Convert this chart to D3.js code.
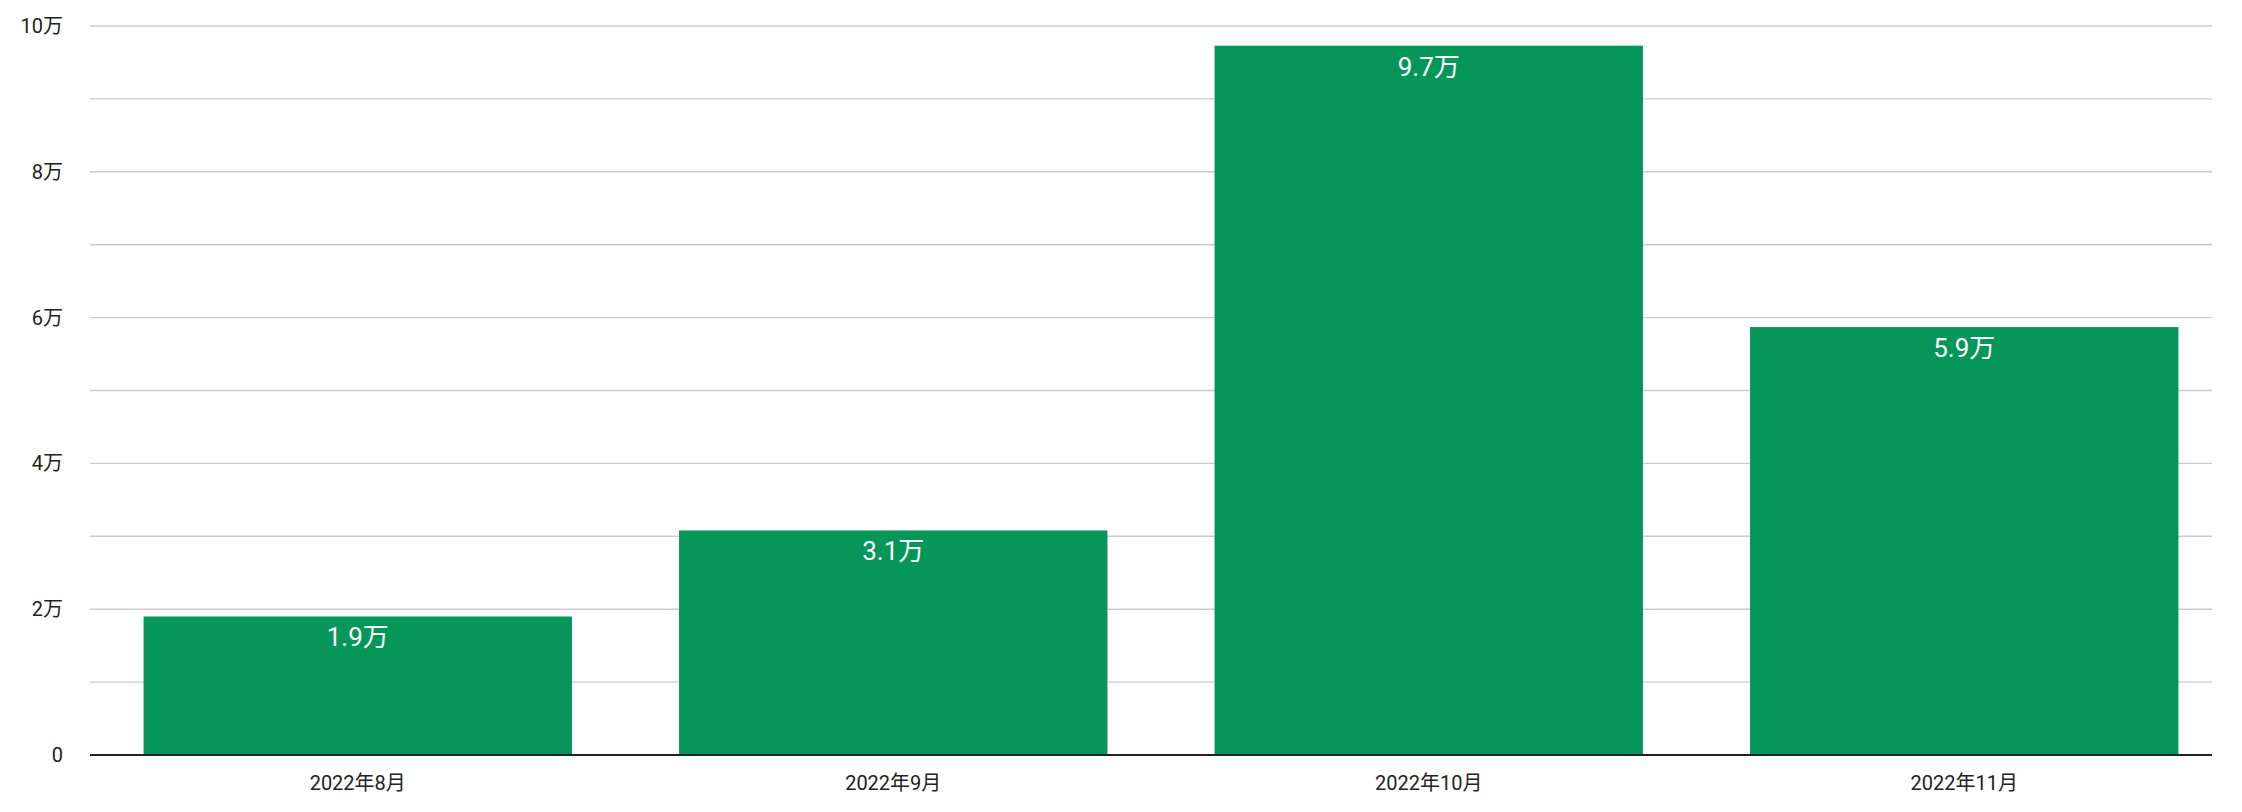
<!DOCTYPE html>
<html><head><meta charset="utf-8">
<script src="https://cdn.jsdelivr.net/npm/d3@7"></script>
<style>body{margin:0;background:#fff}text{font-family:Roboto,"Noto Sans CJK SC",sans-serif}</style>
</head><body><svg></svg>
<script>
var categories = ['2022年8月', '2022年9月', '2022年10月', '2022年11月'];
var values = [19000, 30800, 97300, 58700];
var labels = ['1.9万', '3.1万', '9.7万', '5.9万'];
var yTicks = [0, 20000, 40000, 60000, 80000, 100000];
var yTickLabels = ['0', '2万', '4万', '6万', '8万', '10万'];

var width = 2242, height = 812;
var svg = d3.select('svg').attr('width', width).attr('height', height);
var plotLeft = 90, plotRight = 2212, plotTop = 26, plotBottom = 755;

var y = d3.scaleLinear().domain([0, 100000]).range([plotBottom, plotTop]);
var x = d3.scaleBand().domain(categories).range([plotLeft, 2232]).paddingInner(0.2).paddingOuter(0.1);

// gridlines every 1万
svg.append('g').selectAll('line').data(d3.range(10000, 100001, 10000)).enter().append('line')
	.attr('x1', plotLeft).attr('x2', plotRight)
	.attr('y1', function(d) { return y(d); }).attr('y2', function(d) { return y(d); })
	.attr('stroke', '#cccccc').attr('stroke-width', 1.4);

svg.append('g').selectAll('text').data(yTicks).enter().append('text')
	.attr('x', 63).attr('y', function(d) { return y(d); }).attr('dy', '0.35em')
	.attr('text-anchor', 'end').attr('font-size', 20).attr('fill', '#222')
	.text(function(d, i) { return yTickLabels[i]; });

svg.append('g').selectAll('rect').data(values).enter().append('rect')
	.attr('x', function(d, i) { return x(categories[i]); })
	.attr('width', x.bandwidth())
	.attr('y', function(d) { return y(d); })
	.attr('height', function(d) { return plotBottom - y(d); })
	.attr('fill', '#07965a');

svg.append('g').selectAll('text').data(values).enter().append('text')
	.attr('x', function(d, i) { return x(categories[i]) + x.bandwidth() / 2; })
	.attr('y', function(d) { return y(d) + 30; })
	.attr('text-anchor', 'middle').attr('font-size', 26).attr('fill', '#fff')
	.text(function(d, i) { return labels[i]; });

svg.append('line').attr('x1', plotLeft).attr('x2', plotRight).attr('y1', plotBottom).attr('y2', plotBottom)
	.attr('stroke', '#222').attr('stroke-width', 2);

svg.append('g').selectAll('text').data(categories).enter().append('text')
	.attr('x', function(d) { return x(d) + x.bandwidth() / 2; })
	.attr('y', 790).attr('text-anchor', 'middle').attr('font-size', 20).attr('fill', '#222')
	.text(function(d) { return d; });
</script></body></html>
